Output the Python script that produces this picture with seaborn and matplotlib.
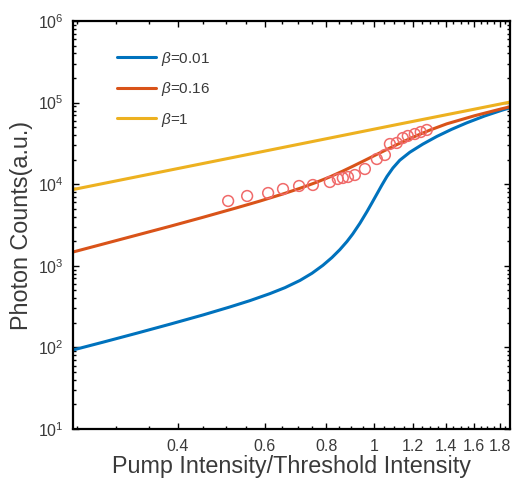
import numpy as np
import pandas as pd
import matplotlib
matplotlib.use("Agg")
import matplotlib.pyplot as plt
import seaborn as sns
from matplotlib.ticker import FixedLocator, FixedFormatter, LogLocator, NullFormatter, LogFormatterMathtext

# Simulated photon counts vs normalised pump intensity for three beta values
pump_b001 = [0.245, 0.282, 0.331, 0.386, 0.450, 0.510, 0.560, 0.615, 0.660, 0.708,
             0.749, 0.788, 0.822, 0.853, 0.882, 0.906, 0.937, 0.968, 0.991, 1.014,
             1.038, 1.063, 1.093, 1.129, 1.183, 1.257, 1.342, 1.439, 1.544, 1.680,
             1.827, 1.888]
counts_b001 = [93, 116, 150, 193, 250, 313, 374, 456, 540, 662,
               811, 1014, 1262, 1577, 1986, 2455, 3322, 4598, 5900, 7557,
               9730, 12420, 15780, 19680, 24620, 30970, 38460, 47100, 56500, 68700,
               81300, 86100]

pump_b016 = [0.245, 0.282, 0.331, 0.386, 0.450, 0.527, 0.587, 0.654, 0.708, 0.766,
             0.814, 0.865, 0.906, 0.950, 0.995, 1.043, 1.118, 1.200, 1.299, 1.406,
             1.603, 1.818, 1.888]
counts_b016 = [1476, 1848, 2388, 3054, 3934, 5145, 6214, 7600, 8913, 10600,
               12290, 14490, 16570, 19080, 21920, 25230, 30900, 37580, 45980, 54930,
               69140, 84000, 88700]

pump_b1 = [0.245, 0.368, 0.560, 0.814, 1.129, 1.494, 1.888]
counts_b1 = [8600, 14070, 23390, 36800, 54700, 76500, 101400]

# Measured photon counts
meas_pump = [0.506, 0.553, 0.610, 0.654, 0.705, 0.752, 0.814, 0.845, 0.865, 0.886,
             0.915, 0.959, 1.014, 1.053, 1.078, 1.113, 1.145, 1.172, 1.211, 1.245, 1.281]
meas_counts = [6230, 7170, 7800, 8730, 9510, 9780, 10640, 11580, 11920, 12250,
               12960, 15360, 20360, 22800, 31100, 32000, 36800, 39000, 41200, 43600, 46200]

beta_labels = [r"$\beta$=0.01", r"$\beta$=0.16", r"$\beta$=1"]
line_colors = ["#0072BD", "#D95319", "#EDB120"]

x_ticks = [0.4, 0.6, 0.8, 1.0, 1.2, 1.4, 1.6, 1.8]
x_tick_labels = ["0.4", "0.6", "0.8", "1", "1.2", "1.4", "1.6", "1.8"]

curves = pd.concat([
    pd.DataFrame({"pump": pump_b001, "counts": counts_b001, "beta": beta_labels[0]}),
    pd.DataFrame({"pump": pump_b016, "counts": counts_b016, "beta": beta_labels[1]}),
    pd.DataFrame({"pump": pump_b1, "counts": counts_b1, "beta": beta_labels[2]}),
], ignore_index=True)
measured = pd.DataFrame({"pump": meas_pump, "counts": meas_counts})

sns.set_theme(style="ticks")
plt.rcParams["font.family"] = ["Liberation Sans", "DejaVu Sans"]
plt.rcParams["mathtext.fontset"] = "custom"
plt.rcParams["mathtext.rm"] = "Liberation Sans"
plt.rcParams["mathtext.it"] = "Liberation Sans:italic"

text_color = "#3a3a3a"

fig = plt.figure(figsize=(5.12, 4.84), dpi=100)
ax = fig.add_axes([0.1426, 0.1136, 0.8535, 0.843])
ax.set_xscale("log")
ax.set_yscale("log")

sns.lineplot(data=curves, x="pump", y="counts", hue="beta", palette=line_colors,
             hue_order=beta_labels, estimator=None, linewidth=2.2, ax=ax)
sns.scatterplot(data=measured, x="pump", y="counts", marker="o", s=60,
                facecolor="none", edgecolor="#F06A6A", linewidth=1.1, ax=ax,
                legend=False, zorder=4)

ax.set_xlim(0.245, 1.89)
ax.set_ylim(10, 1e6)

ax.xaxis.set_major_locator(FixedLocator(x_ticks))
ax.xaxis.set_major_formatter(FixedFormatter(x_tick_labels))
minor_x = [v for v in np.round(np.arange(0.25, 1.9, 0.05), 2) if v not in x_ticks]
ax.xaxis.set_minor_locator(FixedLocator(minor_x))
ax.xaxis.set_minor_formatter(NullFormatter())
ax.yaxis.set_major_locator(LogLocator(base=10, numticks=10))
ax.yaxis.set_major_formatter(LogFormatterMathtext())
ax.yaxis.set_minor_locator(LogLocator(base=10, subs=np.arange(2, 10), numticks=20))
ax.yaxis.set_minor_formatter(NullFormatter())

ax.tick_params(which="both", direction="in", top=True, right=True,
               colors="black", labelcolor=text_color, labelsize=11.5, width=1.0)
ax.tick_params(which="major", length=4)
ax.tick_params(which="minor", length=2.2)
ax.tick_params(axis="x", pad=7)
ax.tick_params(axis="y", pad=7)

for sp in ax.spines.values():
    sp.set_linewidth(1.6)
    sp.set_color("black")

ax.set_xlabel("Pump Intensity/Threshold Intensity", fontsize=16.8, color=text_color, labelpad=1)
ax.set_ylabel("Photon Counts(a.u.)", fontsize=16.8, color=text_color, labelpad=3)

handles, labels = ax.get_legend_handles_labels()
ax.legend(handles[:3], labels[:3], loc="upper left", bbox_to_anchor=(0.1, 0.93),
          frameon=False, fontsize=11, handlelength=2.6, handletextpad=0.3,
          labelspacing=0.82, borderpad=0, borderaxespad=0, labelcolor=text_color)

fig.savefig("out.png", dpi=100)
